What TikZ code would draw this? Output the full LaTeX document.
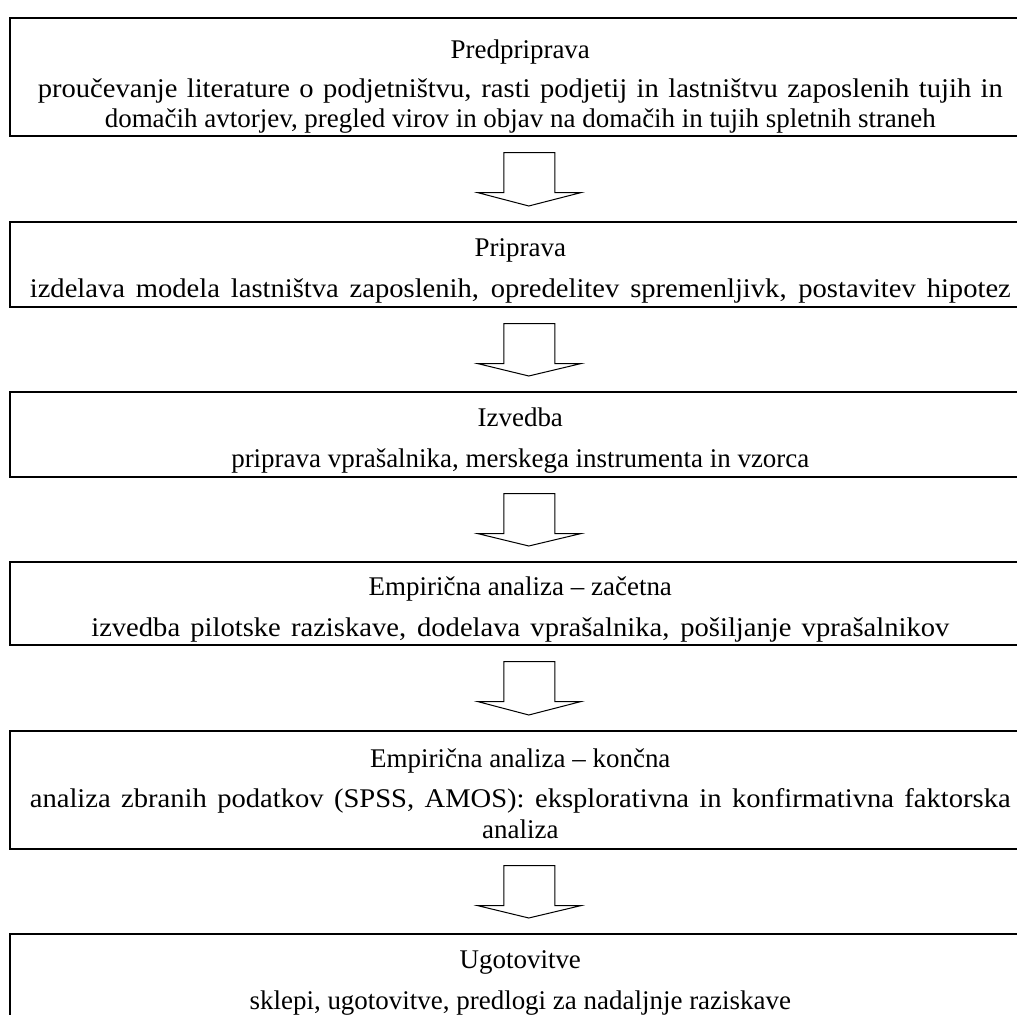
\documentclass[tikz,border=0pt]{standalone}
\usepackage{fontspec}
\setmainfont{Liberation Serif}
\newfontfamily\widefont[FakeStretch=1.06]{Liberation Serif}
\usetikzlibrary{calc}

\begin{document}
\begin{tikzpicture}[
  x=0.445pt, y=-0.445pt,
  every node/.style={font=\fontsize{12}{13.6}\selectfont},
  stagebox/.style={rectangle, draw=black, line width=0.75pt, minimum width=454.3pt, minimum height=37.8pt, anchor=north west, inner sep=0pt},
  titletext/.style={anchor=base, inner sep=0pt},
  bodytext/.style={anchor=base, inner sep=0pt, align=center},
  blockarrow/.style={draw=black, line width=0.45pt, fill=white, line join=miter},
]
\path[use as bounding box, fill=white] (0,0) rectangle (1017,1015);
\clip (0,0) rectangle (1017,1015);

% stage boxes
\node[stagebox, minimum height=52.5pt] (b1) at (9,17) {};
\node[stagebox] (b2) at (9,221) {};
\node[stagebox] (b3) at (9,391) {};
\node[stagebox, minimum height=36.9pt] (b4) at (9,561) {};
\node[stagebox, minimum height=52.5pt] (b5) at (9,730) {};
\node[stagebox] (b6) at (9,933) {};

% texts (base = last line)
\node[titletext] (t1) at ($(b1.north)+(0,42)$) {Predpriprava};
\node[bodytext] (d1) at ($(b1.north)+(0,111)$) {\makebox[429.4pt][s]{\widefont proučevanje literature o podjetništvu, rasti podjetij in lastništvu zaposlenih tujih in}\\domačih avtorjev, pregled virov in objav na domačih in tujih spletnih straneh};
\node[titletext] (t2) at ($(b2.north)+(0,36)$) {Priprava};
\node[bodytext] (d2) at ($(b2.north)+(0,77)$) {\makebox[436.5pt][s]{\widefont izdelava modela lastništva zaposlenih, opredelitev spremenljivk, postavitev hipotez}};
\node[titletext] (t3) at ($(b3.north)+(0,36)$) {Izvedba};
\node[bodytext] (d3) at ($(b3.north)+(0,77)$) {priprava vprašalnika, merskega instrumenta in vzorca};
\node[titletext] (t4) at ($(b4.north)+(0,35)$) {Empirična analiza – začetna};
\node[bodytext] (d4) at ($(b4.north)+(0,76)$) {\makebox[381.8pt][s]{\widefont izvedba pilotske raziskave, dodelava vprašalnika, pošiljanje vprašalnikov}};
\node[titletext] (t5) at ($(b5.north)+(0,37)$) {Empirična analiza – končna};
\node[bodytext] (d5) at ($(b5.north)+(0,108)$) {\makebox[436.5pt][s]{\widefont analiza zbranih podatkov (SPSS, AMOS): eksplorativna in konfirmativna faktorska}\\analiza};
\node[titletext] (t6) at ($(b6.north)+(0,35)$) {Ugotovitve};
\node[bodytext] (d6) at ($(b6.north)+(0,76)$) {sklepi, ugotovitve, predlogi za nadaljnje raziskave};

% block arrows between stages
\foreach \a/\b in {b1/b2, b2/b3, b3/b4, b4/b5, b5/b6}
  \draw[blockarrow] ($(\a.south)+(-16.5,16)$) -- ($(\a.south)+(34.5,16)$)
    -- ($(\a.south)+(34.5,56)$) -- ($(\a.south)+(60.5,56)$)
    -- ($(\b.north)+(8.5,-15)$)
    -- ($(\a.south)+(-42.5,56)$) -- ($(\a.south)+(-16.5,56)$) -- cycle;
\end{tikzpicture}
\end{document}
